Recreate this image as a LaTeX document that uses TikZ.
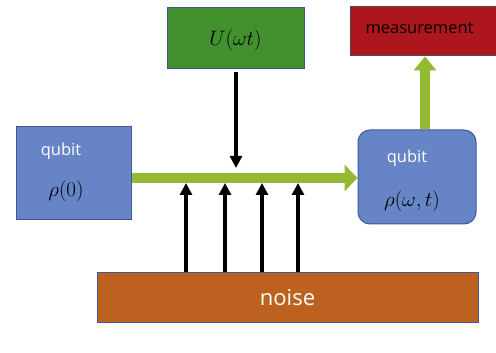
\RequirePackage{fix-cm}
\documentclass[tikz,border=0pt]{standalone}
\usepackage{fontspec}
\usepackage{tikz}
\newfontfamily\labelfont{Open Sans}
\definecolor{qubitblue}{RGB}{102, 132, 198}
\definecolor{qubitedge}{RGB}{60, 90, 150}
\definecolor{gategreen}{RGB}{67, 144, 46}
\definecolor{measred}{RGB}{174, 22, 30}
\definecolor{noiseorange}{RGB}{188, 97, 32}
\definecolor{flowgreen}{RGB}{147, 186, 50}
\usetikzlibrary{arrows.meta, positioning, calc}

\tikzset{
    box/.style={draw=qubitedge, line width=1pt, inner sep=0pt},
    lbl/.style={font=\labelfont\fontsize{16.5}{19}\selectfont, text=white},
    mathlbl/.style={font=\fontsize{21}{24}\selectfont},
    flow/.style={draw=flowgreen, line width=10pt, -{Triangle[length=13pt, width=26pt]}},
    kick/.style={draw=black, line width=3.4pt, -{Triangle[length=12pt, width=12pt]}}
}

\begin{document}
\begin{tikzpicture}[x=1pt, y=1pt]
        \useasboundingbox (0,0) rectangle (496,353);

        % boxes
        \node[box, fill=qubitblue, minimum width=115pt, minimum height=93pt] (qin) at (73.5,179.5) {};
        \node[box, fill=qubitblue, rounded corners=12pt, minimum width=118pt, minimum height=94pt] (qout) at (417,176) {};
        \node[box, fill=gategreen, minimum width=137pt, minimum height=61pt] (gate) at (235.5,314.5) {};
        \node[box, draw=black!70, fill=measred, minimum width=150pt, minimum height=49pt] (meas) at (425,321.5) {};
        \node[box, fill=noiseorange, minimum width=381pt, minimum height=50pt] (noise) at (287.5,55) {};

        % texts
        \node[lbl] (qintxt) at (61,202) {qubit};
        \node[mathlbl] (qinrho) at (66,162) {$\rho(0)$};
        \node[lbl] (qouttxt) at (407,195) {qubit};
        \node[mathlbl] (qoutrho) at (412,152) {$\rho(\omega,t)$};
        \node[mathlbl] (gatetxt) at ([yshift=-2pt]gate.center) {$U(\omega t)$};
        \node[lbl, text=black, anchor=west] (meastxt) at (362,325) {measurement};
        \node[lbl, font=\labelfont\fontsize{22}{26}\selectfont] (noisetxt) at (noise) {noise};

        % arrows
        \draw[flow] (qin.east |- 0,175) -- (qout.west |- 0,175);
        \draw[flow, -{Triangle[length=14pt, width=22pt]}] (425,0 |- qout.north) -- (425,0 |- meas.south);
        \draw[kick] ($(gate.south)+(0.5,-3)$) -- (236,185);
        \foreach \x in {186,225,262,298}
            \draw[kick] (noise.north -| \x,0) -- (\x,170);
    \end{tikzpicture}
\end{document}
